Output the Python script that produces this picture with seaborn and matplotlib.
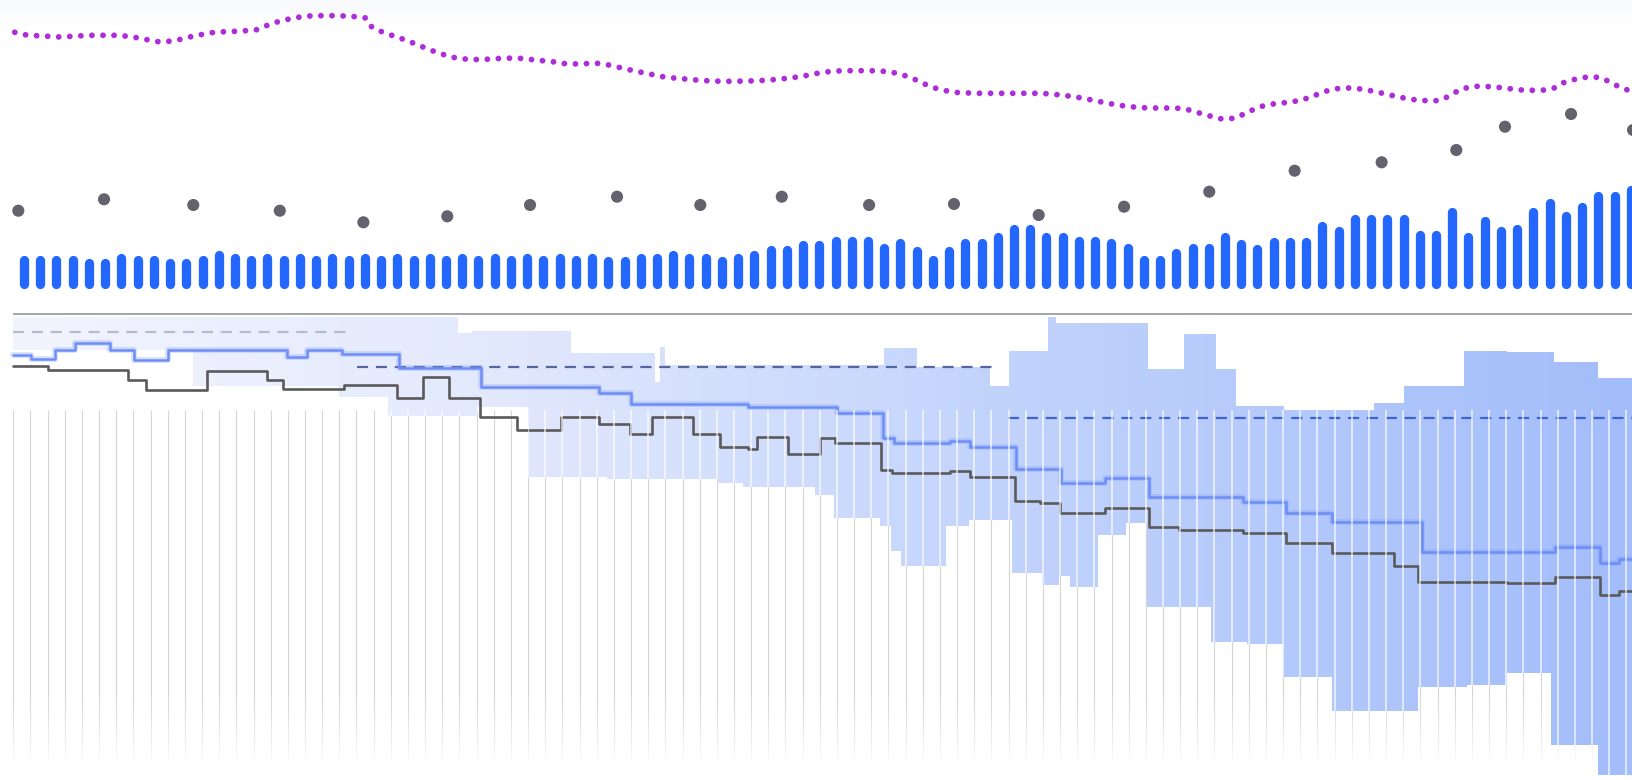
import numpy as np
import matplotlib
matplotlib.use("Agg")
import matplotlib.pyplot as plt
import seaborn as sns
from matplotlib.colors import LinearSegmentedColormap

# ---- top panel data ----
bar_values = [34, 34, 34, 34, 30.7, 30.7, 35.7, 34, 34, 30.7, 30.7, 34, 39, 35.7, 34, 35.7, 34, 35.7, 34, 35.7,
              34, 35.7, 34, 35.7, 34, 35.7, 34, 35.7, 34, 35.7, 34, 35.7, 34, 35.7, 34, 35.7, 32.3, 32.3, 35.7, 35.7,
              39, 35.7, 35.7, 32.3, 35.7, 39, 44, 44, 48.3, 48.3, 52.3, 52.3, 52.3, 45.7, 50.7, 42.3, 34, 42.3, 50.7, 50.7,
              56.3, 65, 65, 56.3, 56.3, 52.3, 52.3, 50.7, 45.7, 34, 34, 40.7, 45.7, 45.7, 56.3, 50, 45, 51.7, 51.7, 51.7,
              67.3, 63, 74.7, 74.7, 74.7, 74.7, 58.3, 58.3, 81.7, 56.3, 73, 63, 64.7, 81.7, 90.7, 77.7, 86.3, 98, 98, 104]
bar_index = np.arange(1, len(bar_values) + 1)

dot_x = [0.65, 5.93, 11.43, 16.76, 21.91, 27.08, 32.18, 37.54, 42.67, 47.69, 53.07, 58.3, 63.52,
         68.78, 74.03, 79.29, 84.65, 89.25, 92.25, 96.32, 100.14]
dot_y = [78.3, 89.7, 84, 78.3, 66.7, 72.7, 84, 92.3, 84, 92.3, 84, 85, 74,
         82.3, 97.3, 118.3, 126.7, 139, 162.3, 175, 159]

trend_x = [0.43, 1.14, 1.83, 2.54, 3.24, 3.93, 4.60, 5.27, 5.90, 6.55, 7.20, 7.82, 8.46, 9.16, 9.90, 10.66, 11.39,
           12.10, 12.82, 13.47, 14.06, 14.68, 15.28, 16.00, 16.73, 17.42, 18.12, 18.78, 19.44, 20.10, 20.75, 21.42,
           22.07, 22.44, 23.31, 23.91, 24.49, 25.12, 25.74, 26.35, 27.00, 27.67, 28.38, 29.10, 29.81, 30.53, 31.23,
           31.95, 32.64, 33.29, 34.04, 34.80, 35.55, 36.31, 37.03, 37.74, 38.44, 39.15, 39.84, 40.54, 41.23, 41.94,
           42.64, 43.35, 44.06, 44.78, 45.49, 46.22, 46.93, 47.63, 48.34, 49.05, 49.73, 50.42, 51.05, 51.73, 52.42,
           53.10, 53.77, 54.38, 54.97, 55.54, 56.11, 56.71, 57.32, 57.96, 58.62, 59.26, 59.92, 60.58, 61.24, 62.02,
           62.81, 63.56, 64.30, 65.02, 65.71, 66.39, 67.10, 67.79, 68.49, 69.18, 69.89, 70.60, 71.38, 72.10, 72.79,
           73.48, 74.14, 74.80, 75.58, 76.27, 76.98, 77.62, 78.30, 78.96, 79.63, 80.26, 80.89, 81.51, 82.18, 82.83,
           83.50, 84.17, 84.82, 85.44, 86.11, 86.79, 87.45, 88.17, 88.83, 89.50, 90.30, 90.96, 91.59, 92.22, 92.85,
           93.47, 94.14, 94.77, 95.44, 95.86, 96.56, 97.32, 97.99, 98.66, 99.29, 99.92]
trend_y = [256.7, 254, 253.3, 252.7, 252, 252.7, 253.3, 253.7, 253.7, 253.7, 253, 251.7, 249.7, 247.3, 247.7, 249.7,
           252.7, 255, 257, 257.3, 257.7, 258.3, 259, 263.7, 267.7, 270.3, 272.3, 273.3, 273.3, 273.3, 273, 272.3,
           271, 261.7, 255.3, 252.5, 249, 245.1, 240.9, 237.1, 233.6, 230.8, 229.7, 229.4, 230, 230.8, 230.8, 230.4,
           228.3, 228.3, 225.7, 225, 225.3, 225.7, 224, 221.3, 218.7, 216.3, 214, 211.7, 210.7, 209.7, 208.7, 208,
           207.7, 207.7, 208, 208.3, 209, 210, 211.3, 213, 215.3, 217, 218, 218.3, 218.3, 218.3, 218, 217, 215, 212,
           208, 203.3, 200, 197.7, 196.3, 196, 195.7, 195.7, 195.7, 195.7, 195.7, 195.7, 195, 193.7, 192.3, 190.3,
           188, 185.7, 183.7, 182.3, 181.3, 181, 181, 180.7, 179, 175.7, 172.7, 170, 170.7, 175.7, 181.3, 184.3,
           185.7, 186.7, 188.7, 191.7, 196, 199.3, 201, 201, 199.7, 197.7, 195.3, 193, 190.7, 189, 188.3, 188.3, 193,
           199.7, 202.7, 202.7, 202, 201, 199.7, 198.7, 198.7, 199, 201.7, 206.3, 209.7, 212, 211.7, 207.7, 202, 198.3]

# ---- bottom panel data (step series: breakpoints and levels) ----
gray_x = [0.30, 2.46, 7.41, 8.54, 12.3, 15.97, 16.96, 20.7, 24.0, 25.6, 27.17, 29.12, 31.4, 34.1, 36.4, 38.35,
          39.7, 42.2, 43.9, 45.6, 46.18, 48.05, 50.05, 50.99, 53.8, 54.5, 58.06, 59.3, 62.05, 63.6, 64.85, 67.6,
          70.3, 72.18, 76.1, 78.75, 81.62, 85.4, 86.9, 92.37, 95.35, 98.1, 99.28]
gray_y = [414, 410, 400, 390, 409.3, 400, 390.7, 395, 381.7, 403.3, 381.7, 363.3, 350, 363.3, 356, 346,
          363.3, 346, 333.3, 330.7, 343.3, 326, 342.3, 337.3, 310, 307.3, 309, 303.3, 279.3, 277.3, 267.3, 271.7,
          252.7, 250, 247.3, 236.7, 226.7, 214, 198.3, 196.7, 203.3, 185, 189.3]

blue_x = [0.30, 1.46, 2.9, 4.14, 6.29, 7.8, 9.86, 17.18, 18.42, 20.6, 24.09, 29.15, 36.45, 38.4, 45.58, 51.09,
          53.9, 54.6, 58.06, 59.3, 62.14, 64.87, 67.62, 70.3, 76.1, 78.75, 81.62, 87.12, 95.35, 98.1, 99.28]
blue_y = [425, 420.7, 430, 436.7, 430, 420, 430, 422.7, 430, 426, 411.7, 393.3, 386.7, 376, 373.3, 367.3,
          341.7, 336.7, 339.3, 333.3, 310.7, 297.3, 301.7, 283.3, 278.3, 267.3, 258.3, 228.3, 232.7, 216.7, 220.7]

band_top_x = [0.30, 27.74, 28.6, 34.7, 39.88, 40.19, 40.5, 53.97, 56.0, 60.5, 61.66, 64.08, 64.61, 70.25,
              72.49, 74.46, 75.7, 78.65, 84.16, 86.04, 89.75, 92.37, 95.25, 97.98]
band_top_y = [463.3, 446.7, 449.3, 427.3, 398.3, 432.7, 415, 432.3, 412.7, 394.3, 429.3, 463.3, 456.7, 410.7,
              446, 410.7, 374, 370, 377.3, 394.3, 429.3, 427.7, 418.3, 401.7]
band_low_x = [0.30, 11.41, 20.38, 23.4, 28.9, 32.05, 36.9, 43.78, 45.32, 49.75, 50.9, 53.77, 54.4, 55.02, 57.8,
              59.2, 61.9, 63.75, 64.75, 65.47, 67.17, 68.9, 70.22, 74.14, 76.33, 78.56, 81.58, 86.9, 89.9, 92.37,
              95.1, 97.98]
band_low_y = [430, 394, 383.3, 364, 372.7, 302.7, 300.7, 297.3, 293.3, 285, 262.3, 254, 229.3, 214, 254,
              260, 207.3, 195, 204, 193.3, 245, 256.7, 173.3, 138.3, 135.7, 103.3, 68.7, 93.3, 95, 106.7, 35, 5]

ref_start = [0.32, 21.52, 61.63]
ref_end = [20.86, 61.0, 100.6]
ref_level = [447.7, 413.3, 362.3]
ref_colors = ['#b4bacf', '#56649f', '#3f63d0']

grid_ticks = np.arange(95)
X_END = 100.6

W, H = 1632, 780
XLIM = (-0.479, 100.076)
GRID_XLIM = (-0.775, 94.33)
TOP_H, BOT_H = 310, 470


def step_verts(xs, ys, x_end):
    edges = list(xs[1:]) + [x_end]
    vx, vy = [], []
    for x0, x1, y in zip(xs, edges, ys):
        vx += [x0, x1]
        vy += [y, y]
    return vx, vy


sns.set_style("white")
fig = plt.figure(figsize=(W / 100, H / 100), dpi=100)

ax_top = fig.add_axes([0, BOT_H / H, 1, TOP_H / H])
ax_grid = fig.add_axes([0, 0, 1, BOT_H / H], zorder=0)
ax_bot = fig.add_axes([0, 0, 1, BOT_H / H], zorder=1)
ax_over = fig.add_axes([0, 0, 1, BOT_H / H], zorder=2)
for ax in (ax_top, ax_grid, ax_bot, ax_over):
    ax.set_axis_off()
    ax.patch.set_alpha(0)

# ---- top panel ----
top_ylim = (-21, 289)
px_per_unit = TOP_H / (top_ylim[1] - top_ylim[0])
bar_w_px = 9.3
cap = bar_w_px / 2 / px_per_unit
bv = np.array(bar_values)
ax_top.vlines(bar_index, cap, bv - cap, color='#2367fe', lw=bar_w_px * 0.72, capstyle='round', zorder=2)

sns.scatterplot(x=dot_x, y=dot_y, ax=ax_top, s=76, color='#64626c', edgecolor='none', zorder=3)

sns.lineplot(x=trend_x, y=trend_y, ax=ax_top, color='#ad2dd8', lw=5.8 * 0.72,
             linestyle=(0, (0.01, 1.9)), dash_capstyle='round', zorder=3)

# very faint wash at the top edge
top_cmap = LinearSegmentedColormap.from_list('topwash', ['#ffffff', '#f8f9fc'])
ax_top.imshow(np.linspace(0, 1, 64).reshape(-1, 1), extent=[XLIM[0], XLIM[1], 262, 289],
              cmap=top_cmap, aspect='auto', origin='lower', zorder=0)
ax_top.set_xlim(*XLIM)
ax_top.set_ylim(*top_ylim)

# ---- bottom panel: background grid lines ----
ax_grid.vlines(grid_ticks, 0, 370, color='#d6d6d6', lw=0.8, zorder=1)
fade = np.ones((100, 1, 4))
ylev = np.linspace(0, 95, 100)
fade[:, 0, 3] = np.clip((85 - ylev) / 73, 0, 1)
ax_grid.imshow(fade, extent=[GRID_XLIM[0], GRID_XLIM[1], 0, 95], aspect='auto', origin='lower', zorder=2)
ax_grid.set_xlim(*GRID_XLIM)
ax_grid.set_ylim(0, BOT_H)

# ---- band ----
tx, ty = step_verts(band_top_x, band_top_y, X_END)
lx, ly = step_verts(band_low_x, band_low_y, X_END)
poly = ax_bot.fill(tx + lx[::-1], ty + ly[::-1], facecolor='none', edgecolor='none')[0]
band_cmap = LinearSegmentedColormap.from_list(
    'band', [(0, '#f3f5fe'), (0.3, '#e3e9fd'), (0.6, '#c3d4fc'), (1, '#a3bdfa')])
im = ax_bot.imshow(np.linspace(0, 1, 256).reshape(1, -1), extent=[XLIM[0], XLIM[1], 0, BOT_H],
                   cmap=band_cmap, aspect='auto', zorder=1)
im.set_clip_path(poly)

# separator
ax_bot.hlines(466, 0.298, X_END, color='#8d8d8d', lw=1.1, zorder=2)

# dashed reference levels
for x0, x1, lev, col in zip(ref_start, ref_end, ref_level, ref_colors):
    ax_bot.hlines(lev, x0, x1, color=col, lw=1.6, linestyles=(0, (5, 3.5)), zorder=3)

# step lines
sns.lineplot(x=gray_x + [X_END], y=gray_y + [gray_y[-1]], ax=ax_bot, drawstyle='steps-post',
             color='#5a5a5a', lw=1.9, zorder=5)
sns.lineplot(x=blue_x + [X_END], y=blue_y + [blue_y[-1]], ax=ax_bot, drawstyle='steps-post',
             color='#7d9bf8', lw=4.2, alpha=0.3, zorder=4)
sns.lineplot(x=blue_x + [X_END], y=blue_y + [blue_y[-1]], ax=ax_bot, drawstyle='steps-post',
             color='#6d8ef6', lw=1.8, zorder=5)
ax_bot.set_xlim(*XLIM)
ax_bot.set_ylim(0, BOT_H)

# white cuts through the band
cuts = ax_over.vlines(grid_ticks, 0, 370, color='white', lw=1.1, alpha=0.8)
cuts.set_clip_path(poly)
ax_over.set_xlim(*GRID_XLIM)
ax_over.set_ylim(0, BOT_H)

fig.savefig('out.png', dpi=100)
